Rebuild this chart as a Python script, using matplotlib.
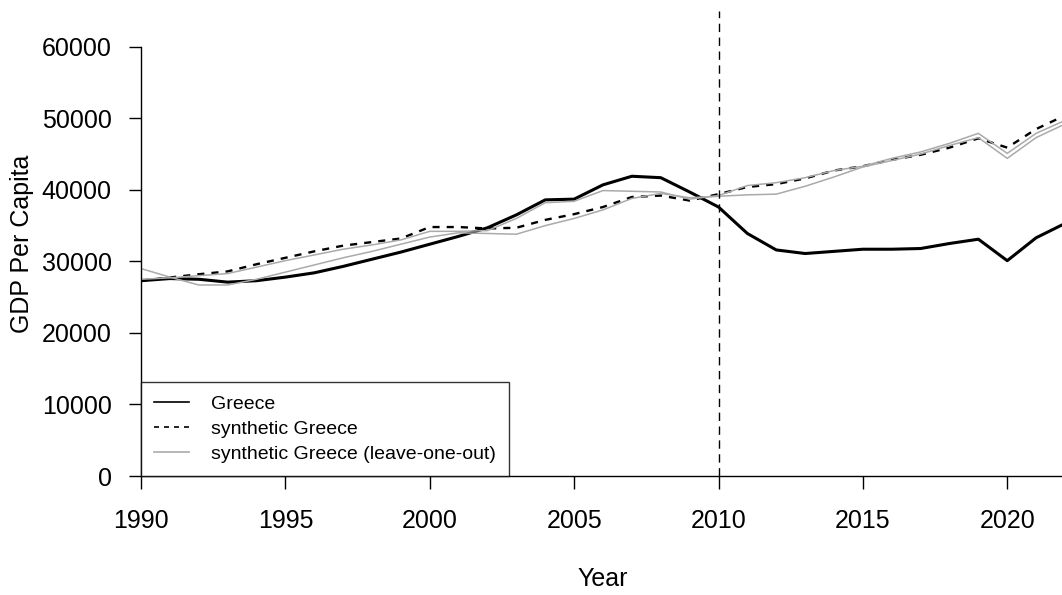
import numpy as np
import matplotlib
matplotlib.use("Agg")
import matplotlib.pyplot as plt

plt.rcParams['font.family'] = ['Liberation Sans', 'DejaVu Sans']

years = list(range(1990, 2023))

greece = [27300, 27600, 27500, 27100, 27300, 27800, 28400, 29300, 30300, 31300,
          32400, 33500, 34700, 36500, 38600, 38700, 40700, 41900, 41700, 39700,
          37600, 33900, 31600, 31100, 31400, 31700, 31700, 31800, 32500, 33100,
          30100, 33300, 35300]

synth = [27300, 27750, 28200, 28600, 29600, 30500, 31400, 32200, 32700, 33200,
         34800, 34800, 34600, 34700, 35800, 36600, 37600, 39000, 39200, 38500,
         39400, 40400, 40800, 41600, 42700, 43300, 44200, 44900, 45900, 47200,
         45900, 48500, 50400]

# leave-one-out synthetic controls
loo_a = [27500, 27700, 28000, 28300, 29200, 30100, 30900, 31700, 32300, 33000,
         34200, 34200, 34300, 36000, 38200, 38400, 39900, 39800, 39700, 38700,
         39200, 40600, 41000, 41700, 42700, 43300, 44400, 45300, 46500, 47900,
         45100, 47900, 49700]

loo_b = [29000, 27800, 26700, 26700, 27500, 28500, 29500, 30500, 31400, 32400,
         33400, 34000, 33900, 33800, 35000, 36000, 37200, 38800, 39500, 38900,
         39100, 39300, 39400, 40500, 41800, 43200, 44100, 45000, 46200, 47300,
         44400, 47300, 49200]

treat_year = 2010

fig = plt.figure(figsize=(10.62, 5.95), dpi=100)
ax = fig.add_axes([141 / 1062, 119 / 595, (1065 - 141) / 1062, 465 / 595])

gray = '#aaaaaa'
ax.plot(years, greece, color='black', lw=2.2, solid_joinstyle='round')
ax.plot(years, synth, color='black', lw=1.7, linestyle=(0, (3, 3)))
ax.plot(years, loo_a, color=gray, lw=1.1)
ax.plot(years, loo_b, color=gray, lw=1.1)
ax.axvline(treat_year, color='black', lw=1.0, linestyle=(0, (6, 4)))

ax.set_xlim(1990, 2022)
ax.set_ylim(0, 65000)
ax.set_xticks(range(1990, 2021, 5))
ax.set_yticks(range(0, 60001, 10000))

for s in ['top', 'right']:
    ax.spines[s].set_visible(False)
ax.spines['left'].set_bounds(0, 60000)
ax.spines['left'].set_linewidth(1.0)
ax.spines['bottom'].set_linewidth(1.0)

ax.tick_params(axis='both', direction='out', length=9, width=1.0,
               labelsize=18, colors='black')
ax.tick_params(axis='x', pad=15)
ax.tick_params(axis='y', pad=12)

fig.text(22 / 1062, (595 - 243.5) / 595, 'GDP Per Capita', rotation=90,
         ha='center', va='center', fontsize=18)
fig.text(603 / 1062, (595 - 579) / 595, 'Year', ha='center', va='center',
         fontsize=18)

leg = ax.legend(['Greece', 'synthetic Greece', 'synthetic Greece (leave-one-out)'],
                loc='lower left', bbox_to_anchor=(0, 0), borderaxespad=0,
                fontsize=14, frameon=True, fancybox=False, handlelength=1.8,
                handletextpad=1.1, borderpad=0.68, labelspacing=0.38)
leg.get_frame().set_edgecolor('black')
leg.get_frame().set_linewidth(1.0)
# thinner key lines, as in the plain legend style
for h in leg.get_lines():
    h.set_linewidth(1.2)

fig.savefig('out.png', dpi=100)
